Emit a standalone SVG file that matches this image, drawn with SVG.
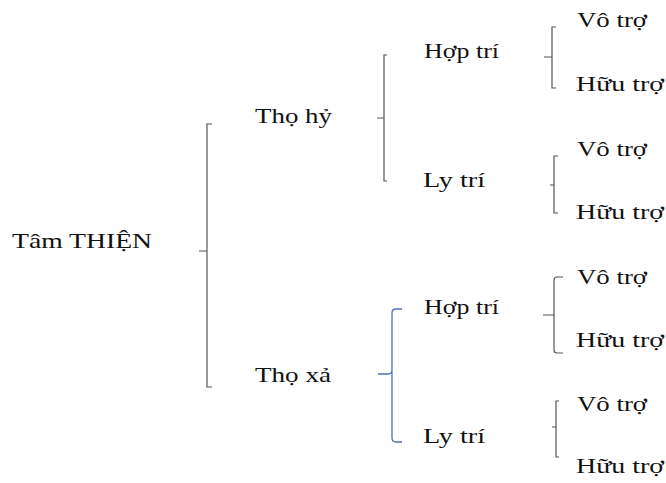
<svg xmlns="http://www.w3.org/2000/svg" width="666" height="483" viewBox="0 0 666 483">
<style>
text{font-family:"Liberation Serif","Times New Roman",serif;font-size:22px;fill:#111}
.br{fill:none;stroke:#555;stroke-width:1.2}
.bl{fill:none;stroke:#4a72b8;stroke-width:1.3}
</style>
<rect width="666" height="483" fill="#fff"/>
<g id="connectors">
<path class="br" d="M212,124 H207 V387 H212 M199,251 H207"/>
<path class="br" d="M387,55 H384 V181 H387 M377,118 H384"/>
<path class="bl" d="M402,309 H396 Q392,309 392,313 V438 Q392,442 396,442 H402 M378,374 H388 Q392,374 392,370"/>
<path class="br" d="M556,27 H552 V88 H556 M544,57 H552"/>
<path class="br" d="M558,156 H554 V213 H558 M550,185 H554"/>
<path class="br" d="M563,277 H557 Q554,277 554,280 V350 Q554,353 557,353 H563 M543,315 H554"/>
<path class="br" d="M559,401 H556 V457 H559 M552,427 H556"/>
</g>
<g id="root"><text x="12" y="248" textLength="140" lengthAdjust="spacingAndGlyphs">Tâm THIỆN</text></g>
<g id="tho-hy"><text x="255" y="122.5" textLength="77" lengthAdjust="spacingAndGlyphs">Thọ hỷ</text></g>
<g id="tho-xa"><text x="255" y="381.5" textLength="76" lengthAdjust="spacingAndGlyphs">Thọ xả</text></g>
<g id="hop-tri-1"><text x="424" y="58" textLength="75" lengthAdjust="spacingAndGlyphs">Hợp trí</text></g>
<g id="ly-tri-1"><text x="423" y="187" textLength="62" lengthAdjust="spacingAndGlyphs">Ly trí</text></g>
<g id="hop-tri-2"><text x="424" y="314" textLength="75" lengthAdjust="spacingAndGlyphs">Hợp trí</text></g>
<g id="ly-tri-2"><text x="423" y="443" textLength="62" lengthAdjust="spacingAndGlyphs">Ly trí</text></g>
<g id="vo-tro-1"><text x="577" y="27" textLength="70" lengthAdjust="spacingAndGlyphs">Vô trợ</text></g>
<g id="huu-tro-1"><text x="576" y="91" textLength="88" lengthAdjust="spacingAndGlyphs">Hữu trợ</text></g>
<g id="vo-tro-2"><text x="577" y="156" textLength="70" lengthAdjust="spacingAndGlyphs">Vô trợ</text></g>
<g id="huu-tro-2"><text x="576" y="219" textLength="88" lengthAdjust="spacingAndGlyphs">Hữu trợ</text></g>
<g id="vo-tro-3"><text x="577" y="284" textLength="70" lengthAdjust="spacingAndGlyphs">Vô trợ</text></g>
<g id="huu-tro-3"><text x="576" y="347" textLength="88" lengthAdjust="spacingAndGlyphs">Hữu trợ</text></g>
<g id="vo-tro-4"><text x="577" y="411" textLength="70" lengthAdjust="spacingAndGlyphs">Vô trợ</text></g>
<g id="huu-tro-4"><text x="576" y="473" textLength="88" lengthAdjust="spacingAndGlyphs">Hữu trợ</text></g>
</svg>
